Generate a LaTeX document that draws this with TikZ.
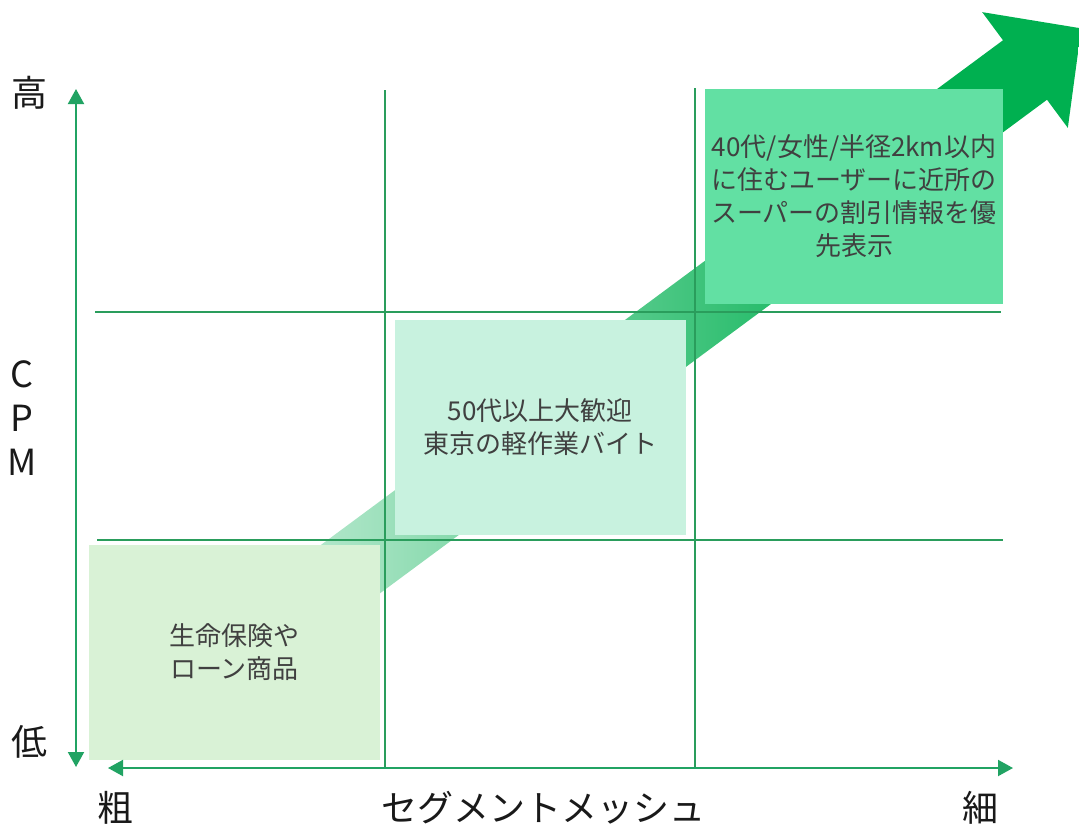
\documentclass[tikz,border=0pt]{standalone}
\usepackage{fontspec}
\setmainfont{Noto Sans CJK JP}
\usepackage{tikz}
\usetikzlibrary{arrows.meta, positioning}
\definecolor{gridgreen}{HTML}{2A9D5C}
\definecolor{axisgreen}{HTML}{21A363}
\definecolor{boxlow}{HTML}{D9F2D6}
\definecolor{boxmid}{HTML}{C8F2DF}
\definecolor{boxhigh}{HTML}{62E0A3}
\definecolor{arrowlight}{HTML}{BDEAD2}
\definecolor{arrowdark}{HTML}{00B050}
\definecolor{boxtext}{HTML}{404040}
\pgfdeclarehorizontalshading{arrowfade}{100bp}{color(0bp)=(arrowlight); color(25bp)=(arrowlight); color(64bp)=(arrowdark); color(100bp)=(arrowdark)}
\tikzstyle{cell}=[shape=rectangle,minimum width=291pt,minimum height=215pt,inner sep=0pt,align=center,text=boxtext,font=\fontsize{26}{33}\selectfont]
\tikzstyle{gridline}=[draw=gridgreen,line width=1.6pt]
\tikzstyle{axisedge}=[draw=axisgreen,line width=2pt,{Triangle[length=15pt,width=16pt]}-{Triangle[length=15pt,width=16pt]}]
\tikzstyle{axislabel}=[font=\fontsize{36}{44}\selectfont,text=black!90,inner sep=0pt]

\begin{document}
\begin{tikzpicture}[x=1pt,y=-1pt]
\useasboundingbox (0,0) rectangle (1079,825);
% big arrow behind the grid
\begin{scope}[shift={(1025,70)},rotate=36.5]
\shade[shading=arrowfade] (-900,-37) -- (0,-37) -- (0,-72) -- (70,0) -- (0,72) -- (0,37) -- (-900,37) -- cycle;
\end{scope}
% grid
\coordinate (v1_t) at (385,90);
\coordinate (v1_b) at (385,768);
\coordinate (v2_t) at (695,88);
\coordinate (v2_b) at (695,768);
\coordinate (h1_l) at (95,312);
\coordinate (h1_r) at (1001,312);
\coordinate (h2_l) at (97,540);
\coordinate (h2_r) at (1003,540);
\draw[gridline] (v1_t) -- (v1_b);
\draw[gridline] (v2_t) -- (v2_b);
\draw[gridline] (h1_l) -- (h1_r);
\draw[gridline] (h2_l) -- (h2_r);
% cells
\node[cell,fill=boxlow] (c_low) at (234.5,652.5) {生命保険や\\ローン商品};
\node[cell,fill=boxmid] (c_mid) at (540,427.5) {50代以上大歓迎\\東京の軽作業バイト};
\node[cell,fill=boxhigh,minimum width=298pt] (c_high) at (854,196.5) {40代/女性/半径2km以内\\に住むユーザーに近所の\\スーパーの割引情報を優\\先表示};
% axes
\coordinate (ax_top) at (76,89);
\coordinate (ax_bot) at (76,767);
\coordinate (ax_left) at (108,768);
\coordinate (ax_right) at (1013,768);
\draw[axisedge] (ax_top) -- (ax_bot);
\draw[axisedge] (ax_left) -- (ax_right);
% labels
\node[axislabel] (l_hi) at (30,93) {高};
\node[axislabel] (l_lo) at (30,742) {低};
\node[axislabel,align=center] (l_cpm) at (22,418) {C\\P\\M};
\node[axislabel] (l_coarse) at (115,808) {粗};
\node[axislabel] (l_seg) at (543,808) {セグメントメッシュ};
\node[axislabel] (l_fine) at (980,808) {細};
\end{tikzpicture}
\end{document}
